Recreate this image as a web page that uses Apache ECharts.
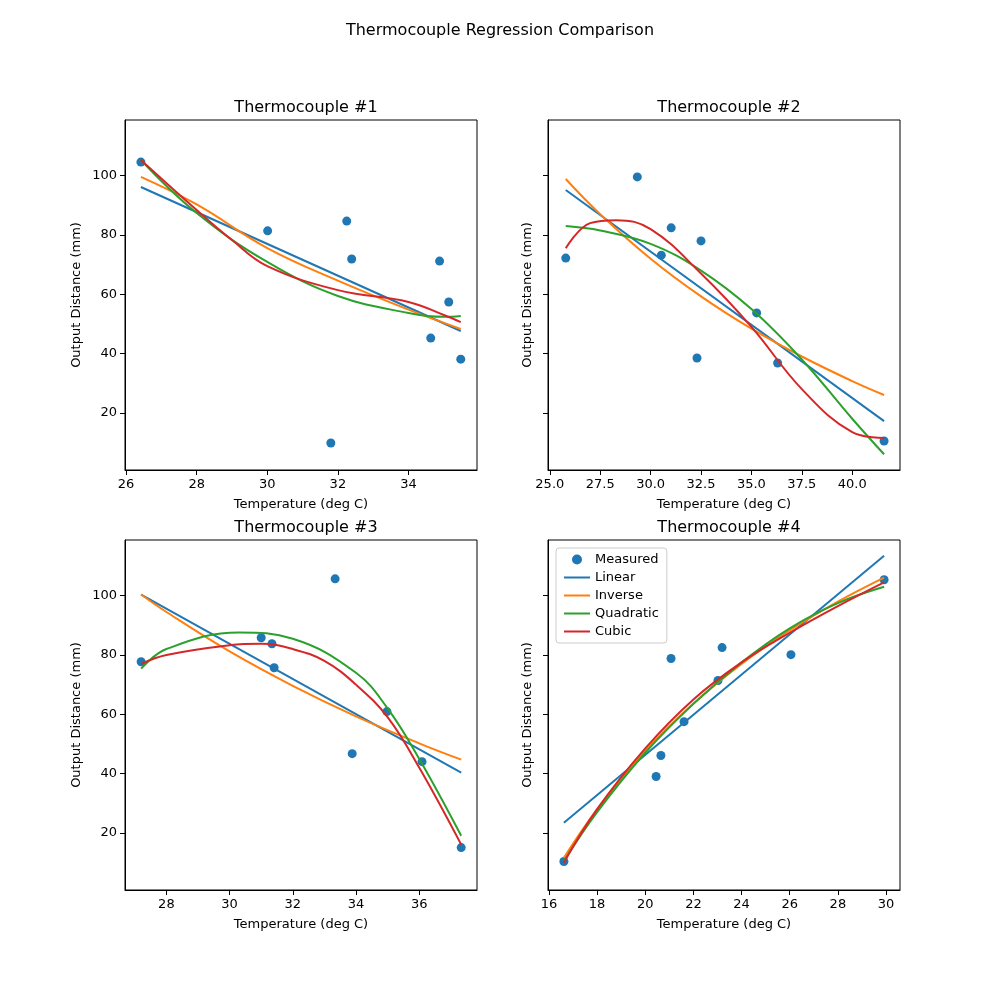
<!DOCTYPE html>
<html>
<head>
<meta charset="utf-8">
<script src="https://cdn.jsdelivr.net/npm/echarts@6/dist/echarts.min.js"></script>
<style>html,body{margin:0;padding:0;background:#fff}#chart{width:1000px;height:1000px}</style>
</head>
<body>
<div id="chart"></div>
<script>
// measured points [temperature, distance]
var measured1 = [[26.42,104.6],[30.01,81.4],[32.25,84.7],[32.39,71.9],[34.88,71.2],[35.14,57.4],[34.63,45.2],[35.48,38.1],[31.80,9.8]]
var linear1 = [[26.42,96.2],[35.48,47.6]]
var inverse1 = [[26.42,99.6],[28,90.3],[30,75.6],[32,64.6],[34,54.8],[35.48,48.3]]
var quad1 = [[26.42,105.3],[28,87.4],[30,70.9],[32,59.4],[34,53.7],[35,52.4],[35.48,52.7]]
var cubic1 = [[26.42,105.3],[28,88.4],[29,78.3],[30,69.5],[32,61.4],[34,57.4],[35,53],[35.48,50.6]]

var measured2 = [[25.79,72.2],[29.34,99.6],[30.53,73.2],[31.02,82.4],[32.5,78.0],[32.30,38.5],[35.26,53.7],[36.30,36.8],[41.58,10.5]]
var linear2 = [[25.79,95.2],[41.58,17.2]]
var inverse2 = [[25.79,98.9],[27.5,87],[30,72],[32.5,59.3],[35,48.4],[37.5,39],[40,30.7],[41.58,26.0]]
var quad2 = [[25.79,83],[27.5,81.5],[30,77],[32.5,68],[35,55],[37.5,38],[40,18],[41.58,6]]
var cubic2 = [[25.79,75.5],[27,84],[28.3,85],[30,82],[32.5,67],[35,49],[37.5,28],[40,13.5],[41.58,11.5]]

var measured3 = [[27.2,77.7],[31.0,85.8],[31.34,83.8],[31.41,75.7],[33.34,105.7],[33.88,46.7],[34.98,60.9],[36.09,44.0],[37.33,15.0]]
var linear3 = [[27.2,100.4],[37.33,40.3]]
var inverse3 = [[27.2,100.4],[28,94.5],[30,81.2],[32,69.6],[34,59.3],[36,50.2],[37.33,44.7]]
var quad3 = [[27.2,75.4],[28,82],[30.3,87.6],[32,85.5],[34,74],[35,62],[36,45],[37.33,19]]
var cubic3 = [[27.2,77],[28,80],[30,83.3],[31,83.8],[32,82],[33,78],[34,70],[35,59],[36,42],[37.33,16]]

var measured4 = [[16.62,10.3],[20.45,39.0],[20.65,46.1],[21.61,57.5],[21.07,78.8],[23.02,71.4],[23.19,82.5],[26.05,80.1],[29.92,105.4]]
var linear4 = [[16.62,23.4],[29.92,113.5]]
var inverse4 = [[16.62,11.6],[18,27.9],[20,47.6],[22,63.6],[24,77],[26,88.3],[28,98],[29.92,106.1]]
var quad4 = [[16.62,10.5],[18,27],[20,47],[22,63.5],[24,77.5],[26,89],[28,97.5],[29.92,103]]
var cubic4 = [[16.62,10],[18,28],[20,48.5],[22,65],[24,77.5],[26,87.5],[28,96.5],[29.92,104.5]]

var yTicks = [20, 40, 60, 80, 100]
var xTicks = [
  [26, 28, 30, 32, 34],
  [25, 27.5, 30, 32.5, 35, 37.5, 40],
  [28, 30, 32, 34, 36],
  [16, 18, 20, 22, 24, 26, 28, 30]
]
var xRanges = [[25.97, 35.94], [24.91, 42.37], [26.69, 37.83], [15.96, 30.58]]
var titles = ['Thermocouple #1', 'Thermocouple #2', 'Thermocouple #3', 'Thermocouple #4']
var panels = [
  [measured1, linear1, inverse1, quad1, cubic1],
  [measured2, linear2, inverse2, quad2, cubic2],
  [measured3, linear3, inverse3, quad3, cubic3],
  [measured4, linear4, inverse4, quad4, cubic4]
]
var names = ['Measured', 'Linear', 'Inverse', 'Quadratic', 'Cubic']
var colors = ['#1f77b4', '#1f77b4', '#ff7f0e', '#2ca02c', '#d62728']

var font = 'DejaVu Sans'
var pos = [[125, 120], [548, 120], [125, 540], [548, 540]]
var grid = [], xAxis = [], yAxis = [], series = [], title = []

title.push({ text: 'Thermocouple Regression Comparison', left: 'center', top: 18,
  textStyle: { fontFamily: font, fontSize: 16, fontWeight: 'normal', color: '#000' } })

for (var i = 0; i < 4; i++) {
  grid.push({ left: pos[i][0], top: pos[i][1], width: 352, height: 350,
    show: true, borderColor: '#000', borderWidth: 1, backgroundColor: 'transparent' })
  title.push({ text: titles[i], left: pos[i][0] + 176, top: pos[i][1] - 25, textAlign: 'center',
    textStyle: { fontFamily: font, fontSize: 16, fontWeight: 'normal', color: '#000' } })
  xAxis.push({
    type: 'value', gridIndex: i, min: xRanges[i][0], max: xRanges[i][1],
    name: 'Temperature (deg C)', nameLocation: 'middle', nameGap: 28,
    nameTextStyle: { fontFamily: font, fontSize: 13, color: '#000' },
    axisLine: { lineStyle: { color: '#000' } },
    axisTick: { customValues: xTicks[i], length: 5, lineStyle: { color: '#000' } },
    axisLabel: { customValues: xTicks[i], fontFamily: font, fontSize: 13, color: '#000',
      formatter: i === 1 ? function (v) { return v.toFixed(1) } : '{value}' },
    splitLine: { show: false }
  })
  yAxis.push({
    type: 'value', gridIndex: i, min: 0.7, max: 118.8,
    name: 'Output Distance (mm)', nameLocation: 'middle', nameGap: i % 2 === 0 ? 42 : 14,
    nameTextStyle: { fontFamily: font, fontSize: 13, color: '#000' },
    axisLine: { lineStyle: { color: '#000' } },
    axisTick: { customValues: yTicks, length: 5, lineStyle: { color: '#000' } },
    axisLabel: { show: i % 2 === 0, customValues: yTicks, fontFamily: font, fontSize: 13, color: '#000' },
    splitLine: { show: false }
  })
  for (var j = 0; j < 5; j++) {
    if (j === 0) {
      series.push({ name: names[j], type: 'scatter', xAxisIndex: i, yAxisIndex: i,
        symbolSize: 9, itemStyle: { color: colors[j], opacity: 1 }, data: panels[i][j], z: 1 })
    } else {
      series.push({ name: names[j], type: 'line', xAxisIndex: i, yAxisIndex: i,
        smooth: 0.4, showSymbol: false, symbol: 'none',
        lineStyle: { color: colors[j], width: 2 }, itemStyle: { color: colors[j] },
        data: panels[i][j], z: 2 + j })
    }
  }
}

var myChart = echarts.init(document.getElementById('chart'))
var option = {
  animation: false,
  title: title,
  legend: {
    left: 556, top: 548, orient: 'vertical', itemGap: 5,
    itemWidth: 26, itemHeight: 10,
    backgroundColor: '#fff', borderColor: '#ccc', borderWidth: 1, borderRadius: 3,
    padding: [5, 8, 5, 8],
    textStyle: { fontFamily: font, fontSize: 13, color: '#000' },
    data: [
      { name: 'Measured', icon: 'circle' },
      { name: 'Linear', icon: 'path://M0,4L26,4L26,6L0,6Z' },
      { name: 'Inverse', icon: 'path://M0,4L26,4L26,6L0,6Z' },
      { name: 'Quadratic', icon: 'path://M0,4L26,4L26,6L0,6Z' },
      { name: 'Cubic', icon: 'path://M0,4L26,4L26,6L0,6Z' }
    ]
  },
  grid: grid,
  xAxis: xAxis,
  yAxis: yAxis,
  series: series
}
myChart.setOption(option)
window.addEventListener('resize', function () {
  myChart.resize()
})
</script>
</body>
</html>
